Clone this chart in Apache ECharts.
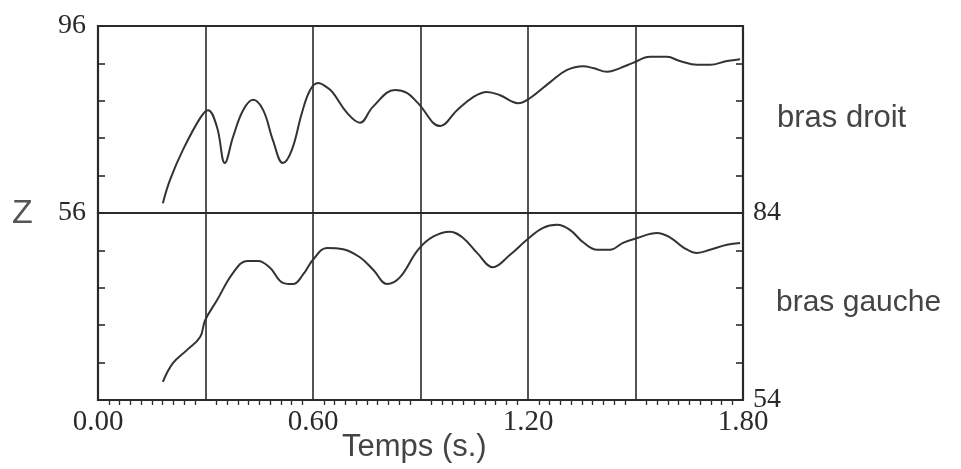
<!DOCTYPE html>
<html>
<head>
<meta charset="utf-8">
<script src="https://cdn.jsdelivr.net/npm/echarts@6/dist/echarts.min.js"></script>
<style>html,body{margin:0;padding:0;background:#fff;}#c{width:961px;height:469px;}</style>
</head>
<body>
<div id="c"></div>
<script>
// Data
var tDroit = [0.181,0.201,0.237,0.285,0.307,0.332,0.354,0.377,0.405,0.433,0.461,0.488,0.516,0.541,0.569,0.592,0.614,0.642,0.656,0.695,0.731,0.767,0.829,0.862,0.893,0.955,1.002,1.047,1.085,1.122,1.172,1.206,1.262,1.309,1.354,1.382,1.421,1.457,1.493,1.541,1.588,1.624,1.672,1.708,1.755,1.792];
var vDroit = [58.1,63.1,69.5,76.3,78.0,74.4,66.7,72.3,78.0,80.2,78.0,71.6,66.7,69.5,77.4,82.3,83.8,82.7,81.7,77.4,75.3,78.7,82.3,81.7,79.5,74.6,78.0,80.8,81.9,81.2,79.5,80.6,84.0,86.6,87.4,87.0,86.2,87.0,88.1,89.4,89.4,88.5,87.7,87.7,88.5,88.9];
var tGauche = [0.181,0.209,0.248,0.285,0.299,0.332,0.377,0.416,0.447,0.480,0.516,0.544,0.572,0.600,0.639,0.684,0.731,0.768,0.807,0.843,0.893,0.935,0.982,1.019,1.058,1.102,1.150,1.197,1.242,1.281,1.317,1.354,1.393,1.429,1.465,1.505,1.560,1.596,1.633,1.672,1.708,1.755,1.792];
var vGauche = [56.9,59.9,62.0,64.1,66.8,70.0,74.4,76.3,76.3,75.2,72.8,72.6,74.1,76.5,78.4,78.2,76.9,74.9,72.6,73.7,78.1,80.2,81.0,80.0,77.6,75.3,77.3,79.7,81.6,82.1,81.3,79.3,78.1,78.1,79.2,80.0,80.8,80.1,78.5,77.6,78.1,78.9,79.2];
var xTickLabels = ['0.00','0.60','1.20','1.80'];
var leftTickLabels = ['56','96'];
var rightTickLabels = ['54','84'];
var labelDroit = 'bras droit';
var labelGauche = 'bras gauche';
var xName = 'Temps (s.)';
var yName = 'Z';

function pairs(t, v){ return t.map(function(x,i){ return [x, v[i]]; }); }
function showOnly(list){ return function(val){ for (var i=0;i<list.length;i++){ if (Number(list[i]) === Number(val)) return list[i]; } return ''; }; }

var ink = '#2a2a2a';
var serif = '"Liberation Serif", "DejaVu Serif", serif';
var sans = '"Liberation Sans", Arial, sans-serif';

var chart = echarts.init(document.getElementById('c'), null, {renderer:'canvas'});
chart.setOption({
  backgroundColor: '#fff',
  animation: false,
  grid: [
    {left: 98, right: 218, top: 26, height: 187, show: true, borderColor: ink, borderWidth: 2.2},
    {left: 98, right: 218, top: 213, height: 187, show: true, borderColor: ink, borderWidth: 2.2}
  ],
  xAxis: [
    {gridIndex: 0, type: 'value', min: 0, max: 1.8, interval: 0.3,
     axisLine: {show: false}, axisTick: {show: false}, axisLabel: {show: false},
     splitLine: {show: true, lineStyle: {color: ink, width: 1.6}}},
    {gridIndex: 1, type: 'value', min: 0, max: 1.8, interval: 0.3,
     axisLine: {show: false},
     axisTick: {show: false},
     minorTick: {show: true, splitNumber: 10, length: 5, lineStyle: {color: ink, width: 1.3}},
     axisLabel: {show: true, margin: 8, color: '#2a2a2a', fontFamily: serif, fontSize: 29,
       formatter: function(v){ var s = v.toFixed(2); return xTickLabels.indexOf(s) >= 0 ? s : ''; }},
     splitLine: {show: true, lineStyle: {color: ink, width: 1.6}}}
  ],
  yAxis: [
    {gridIndex: 0, type: 'value', position: 'left', min: 56, max: 96, interval: 8,
     axisLine: {show: false}, axisTick: {show: true, inside: true, length: 7, lineStyle: {color: ink, width: 1.6}},
     axisLabel: {show: true, margin: 12, color: '#2a2a2a', fontFamily: serif, fontSize: 28, formatter: showOnly(leftTickLabels)},
     splitLine: {show: false}},
    {gridIndex: 0, type: 'value', position: 'right', min: 56, max: 96, interval: 8,
     axisLine: {show: false}, axisTick: {show: true, inside: true, length: 7, lineStyle: {color: ink, width: 1.6}},
     axisLabel: {show: false}, splitLine: {show: false}},
    {gridIndex: 1, type: 'value', position: 'left', min: 54, max: 84, interval: 6,
     axisLine: {show: false}, axisTick: {show: true, inside: true, length: 7, lineStyle: {color: ink, width: 1.6}},
     axisLabel: {show: false}, splitLine: {show: false}},
    {gridIndex: 1, type: 'value', position: 'right', min: 54, max: 84, interval: 6,
     axisLine: {show: false}, axisTick: {show: true, inside: true, length: 7, lineStyle: {color: ink, width: 1.6}},
     axisLabel: {show: true, margin: 10, color: '#2a2a2a', fontFamily: serif, fontSize: 28, formatter: showOnly(rightTickLabels)},
     splitLine: {show: false}}
  ],
  series: [
    {name: labelDroit, type: 'line', xAxisIndex: 0, yAxisIndex: 0, data: pairs(tDroit, vDroit),
     smooth: 0.4, showSymbol: false, lineStyle: {color: '#333', width: 2}},
    {name: labelGauche, type: 'line', xAxisIndex: 1, yAxisIndex: 3, data: pairs(tGauche, vGauche),
     smooth: 0.4, showSymbol: false, lineStyle: {color: '#333', width: 2}}
  ],
  graphic: [
    {type: 'text', left: 777, top: 103, style: {text: labelDroit, fontFamily: sans, fontSize: 31, fill: '#444'}},
    {type: 'text', left: 776, top: 288, style: {text: labelGauche, fontFamily: sans, fontSize: 30, fill: '#444'}},
    {type: 'text', left: 342, top: 432, style: {text: xName, fontFamily: sans, fontSize: 31, fill: '#444'}},
    {type: 'text', left: 12, top: 197, style: {text: yName, fontFamily: sans, fontSize: 34, fill: '#555'}}
  ]
});
</script>
</body>
</html>
